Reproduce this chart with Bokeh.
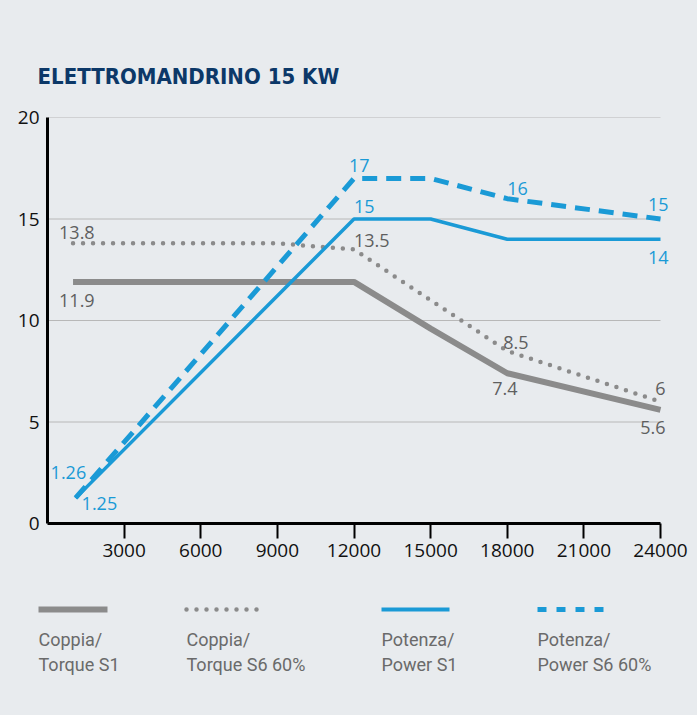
from bokeh.plotting import figure
from bokeh.models import Range1d, FixedTicker, Label
from bokeh.layouts import column
from bokeh.embed import file_html
from bokeh.resources import INLINE

# ---------------- data ----------------
title_text = "ELETTROMANDRINO 15 KW"

torque_s1_x = [1000, 12000, 15000, 18000, 24000]
torque_s1_y = [11.9, 11.9, 9.6, 7.4, 5.6]

torque_s6_x = [1000, 9000, 12000, 18000, 24000]
torque_s6_y = [13.8, 13.8, 13.5, 8.5, 6.0]

power_s1_x = [1100, 12000, 15000, 18000, 24000]
power_s1_y = [1.25, 15, 15, 14, 14]

power_s6_x = [1100, 12000, 15000, 18000, 24000]
power_s6_y = [1.26, 17, 17, 16, 15]

x_min, x_max = 0, 24000
y_min, y_max = 0, 20
x_ticks = [3000, 6000, 9000, 12000, 15000, 18000, 21000, 24000]
y_ticks = [0, 5, 10, 15, 20]

legend_labels = [("Coppia/", "Torque S1"), ("Coppia/", "Torque S6 60%"),
                 ("Potenza/", "Power S1"), ("Potenza/", "Power S6 60%")]

# ---------------- style / layout ----------------
BG = "#e8ebee"
GRAY = "#8b8b8b"
GRAY_TXT = "#5f5f5f"
BLUE = "#1a9ad6"
NAVY = "#0c3868"
NUM_FONT = "Open Sans"
W = 697
H_TITLE = 100
H_MAIN = 483
H_LEG = 132
FRAME_LEFT = 47
AXIS_RIGHT = 660       # pixel position of x_max
# extend the x range to the right edge so that end labels are not clipped
x_view_end = x_max * (W - FRAME_LEFT) / (AXIS_RIGHT - FRAME_LEFT)


def blank(h):
    f = figure(width=W, height=h, x_range=Range1d(0, W), y_range=Range1d(h, 0),
               output_backend="svg", toolbar_location=None, min_border=0,
               x_axis_location=None, y_axis_location=None, frame_align=False)
    f.background_fill_color = BG
    f.border_fill_color = BG
    f.outline_line_color = None
    f.grid.visible = False
    return f


# ---------------- title ----------------
t = blank(H_TITLE)
t.text(x=[37], y=[76], text=[title_text], text_color=NAVY,
       text_font={"value": "DejaVu Sans Condensed, Roboto Condensed, Roboto"}, text_font_size="22px",
       text_font_style="bold", text_baseline="alphabetic", text_align="left")

# ---------------- main chart ----------------
p = figure(width=W, height=H_MAIN, x_range=Range1d(x_min, x_view_end), y_range=Range1d(y_min, y_max),
           output_backend="svg", toolbar_location=None, frame_align=False,
           min_border_left=FRAME_LEFT, min_border_right=0, min_border_top=17, min_border_bottom=60)
p.background_fill_color = BG
p.border_fill_color = BG
p.outline_line_color = None
p.grid.visible = False

# horizontal grid lines, limited to the axis extent
grid_y = [v for v in y_ticks if v > y_min]
p.segment(x0=[x_min] * len(grid_y), x1=[x_max] * len(grid_y), y0=grid_y, y1=grid_y,
          line_color="#b8b8b8", line_width=1)

for ax in (p.xaxis[0], p.yaxis[0]):
    ax.axis_line_color = "#000000"
    ax.axis_line_width = 3
    ax.major_label_text_font = NUM_FONT
    ax.major_label_text_font_size = "19px"
    ax.major_label_text_color = "#111111"
    ax.minor_tick_line_color = None

p.xaxis.bounds = (x_min, x_max)
p.xaxis.ticker = FixedTicker(ticks=x_ticks)
p.xaxis.major_tick_out = 15
p.xaxis.major_tick_in = 0
p.xaxis.major_tick_line_width = 2
p.xaxis.major_tick_line_color = "#000000"
p.xaxis.major_label_standoff = 5

p.yaxis.ticker = FixedTicker(ticks=y_ticks)
p.yaxis.major_tick_line_color = None
p.yaxis.major_tick_out = 0
p.yaxis.major_tick_in = 0
p.yaxis.major_label_standoff = 8

p.line(torque_s1_x, torque_s1_y, line_color=GRAY, line_width=6)
p.line(torque_s6_x, torque_s6_y, line_color=GRAY, line_width=4.5,
       line_dash="0 10", line_cap="round")
p.line(power_s1_x, power_s1_y, line_color=BLUE, line_width=3.5)
p.line(power_s6_x, power_s6_y, line_color=BLUE, line_width=5, line_dash="15 9")


def lab(xs, ys, i, color, align, dx, dy):
    v = ys[i]
    txt = f"{v:g}"
    p.add_layout(Label(x=xs[i], y=v, text=txt, text_color=color, text_align=align,
                       text_baseline="middle", x_offset=dx, y_offset=dy,
                       text_font=NUM_FONT, text_font_size="18px"))


lab(torque_s6_x, torque_s6_y, 0, GRAY_TXT, "left", -14, 11)
lab(torque_s1_x, torque_s1_y, 0, GRAY_TXT, "left", -14, -19)
lab(torque_s6_x, torque_s6_y, 2, GRAY_TXT, "left", 0, 9)
lab(power_s6_x, power_s6_y, 1, BLUE, "left", -5, 13)
lab(power_s1_x, power_s1_y, 1, BLUE, "left", 0, 13)
lab(power_s6_x, power_s6_y, 3, BLUE, "left", 0, 10)
lab(power_s6_x, power_s6_y, 4, BLUE, "right", 8, 15)
lab(power_s1_x, power_s1_y, 4, BLUE, "right", 8, -18)
lab(torque_s6_x, torque_s6_y, 3, GRAY_TXT, "left", -4, 8)
lab(torque_s1_x, torque_s1_y, 3, GRAY_TXT, "left", -15, -15)
lab(torque_s6_x, torque_s6_y, 4, GRAY_TXT, "right", 5, 13)
lab(torque_s1_x, torque_s1_y, 4, GRAY_TXT, "right", 5, -18)
lab(power_s6_x, power_s6_y, 0, BLUE, "left", -25, 25)
lab(power_s1_x, power_s1_y, 0, BLUE, "left", 6, -5)

# ---------------- legend ----------------
q = blank(H_LEG)

lx = [38, 186, 381, 537]
lw = [69, 74, 68, 68]
styles = [dict(line_color=GRAY, line_width=6),
          dict(line_color=GRAY, line_width=4.5, line_dash="0 10", line_cap="round"),
          dict(line_color=BLUE, line_width=4),
          dict(line_color=BLUE, line_width=5, line_dash="9 10")]
for x0, w, st in zip(lx, lw, styles):
    q.line([x0, x0 + w], [26, 26], **st)

q.text(x=lx, y=[56] * 4, text=[a for a, b in legend_labels], text_color="#6a6a6a",
       text_font={"value": "Roboto"}, text_font_size="18px", text_baseline="middle")
q.text(x=lx, y=[81] * 4, text=[b for a, b in legend_labels], text_color="#6a6a6a",
       text_font={"value": "Roboto"}, text_font_size="18px", text_baseline="middle")

layout = column(t, p, q, spacing=0)
html = file_html(layout, INLINE)
html = html.replace("</head>", "<style>html, body { background-color: %s !important; }</style>\n</head>" % BG, 1)
open("out.html", "w").write(html)
